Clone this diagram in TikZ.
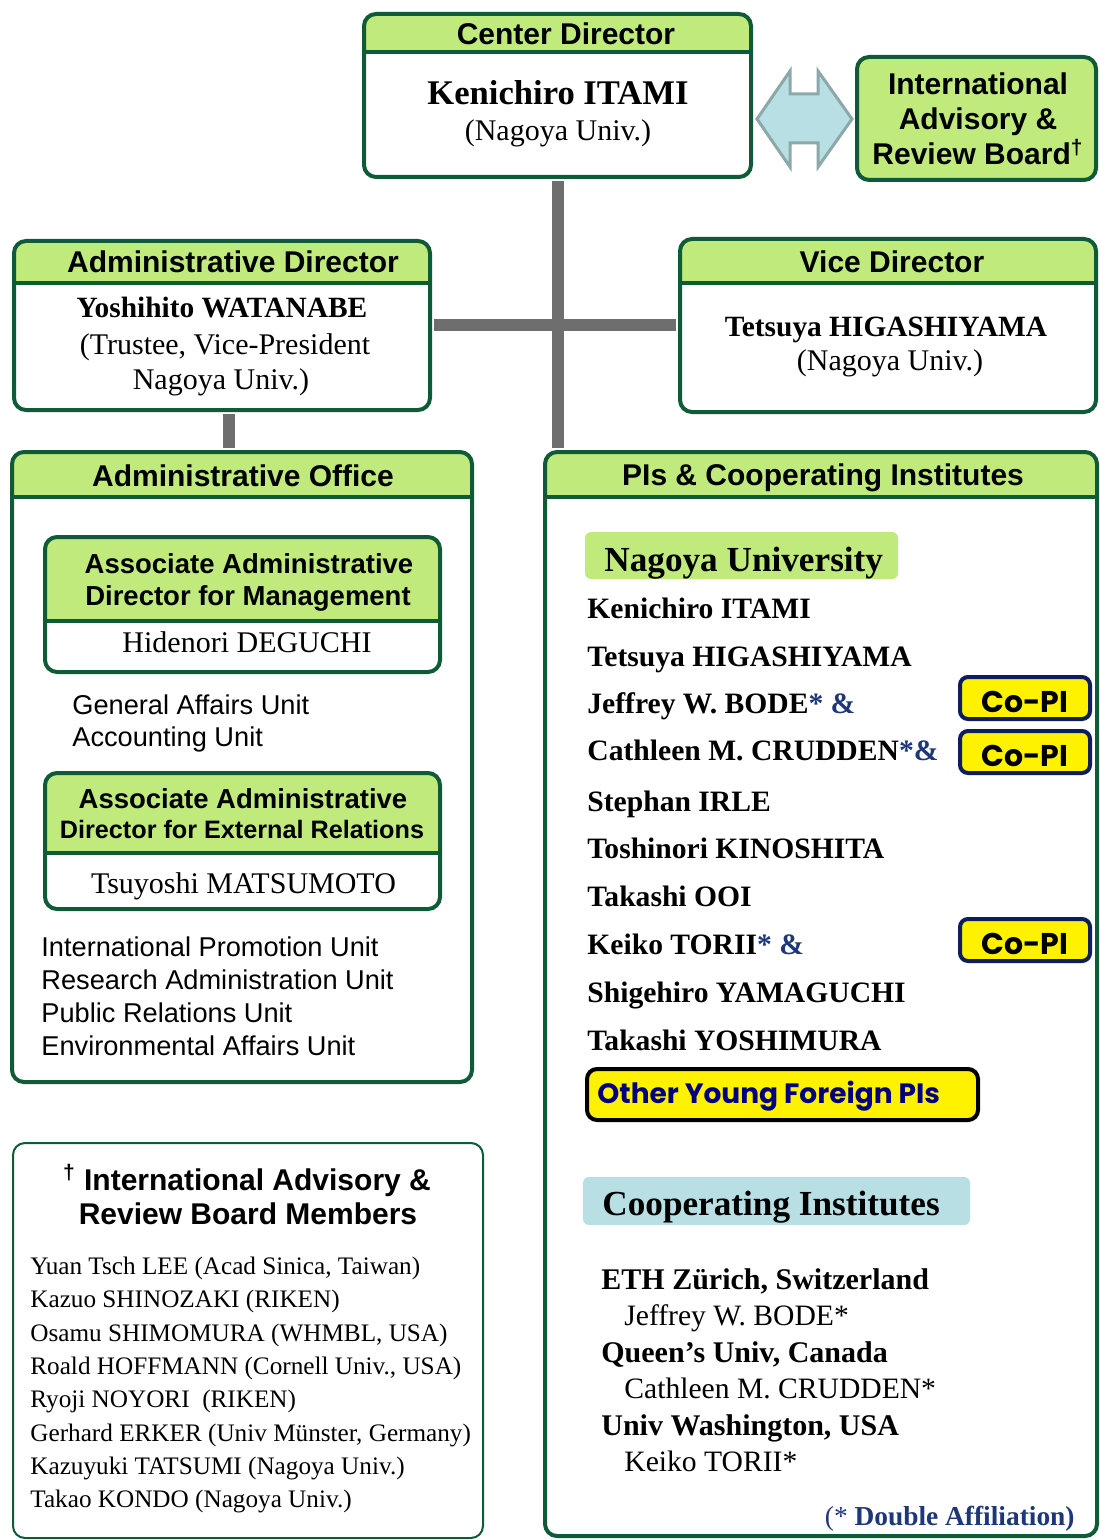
\documentclass[tikz,border=0pt]{standalone}
\usepackage{fontspec}
\setmainfont{Liberation Serif}
\setsansfont{Liberation Sans}
\newfontfamily\roundfont{Poppins}
\usetikzlibrary{positioning}

\definecolor{hdrgreen}{RGB}{192,234,123}
\definecolor{boxgreen}{RGB}{15,91,56}
\definecolor{linkgrey}{RGB}{110,110,110}
\definecolor{arrowfill}{RGB}{184,223,227}
\definecolor{arrowline}{RGB}{140,168,168}
\definecolor{copiline}{RGB}{12,30,94}
\definecolor{navytext}{RGB}{0,0,128}
\definecolor{ampblue}{RGB}{30,55,120}

\begin{document}
\begin{tikzpicture}[x=0.5pt,y=-0.5pt,
    box/.style={draw=boxgreen,line width=2pt,rounded corners=6pt,fill=white,inner sep=0pt},
    hbox/.style={box,path picture={
        \fill[hdrgreen,sharp corners] (path picture bounding box.north west) rectangle ([yshift=-#1]path picture bounding box.north east);
        \draw[boxgreen,line width=2pt] ([yshift=-#1]path picture bounding box.north west) -- ([yshift=-#1]path picture bounding box.north east);}},
    link/.style={linkgrey,line width=6pt,shorten <=1pt,shorten >=1pt},
    head/.style={font=\sffamily\bfseries\fontsize{15}{18}\selectfont,anchor=base},
    subhead/.style={font=\sffamily\bfseries\fontsize{#1}{16}\selectfont,anchor=base},
    bigname/.style={font=\bfseries\fontsize{17.3}{20}\selectfont,anchor=base},
    person/.style={font=\bfseries\fontsize{14.7}{18}\selectfont,anchor=base},
    affil/.style={font=\fontsize{15}{18}\selectfont,anchor=base},
    unit/.style={font=\sffamily\fontsize{13.6}{16}\selectfont,anchor=base west,inner sep=0pt},
    pname/.style={font=\bfseries\fontsize{14.8}{18}\selectfont,anchor=base west,inner sep=0pt},
    pnamereg/.style={font=\fontsize{14.8}{18}\selectfont,anchor=base west,inner sep=0pt},
    tagtext/.style={font=\bfseries\fontsize{17.6}{20}\selectfont,anchor=base west,inner sep=0pt},
    inst/.style={font=\bfseries\fontsize{15}{18}\selectfont,anchor=base west,inner sep=0pt},
    member/.style={font=\fontsize{12.6}{15}\selectfont,anchor=base west,inner sep=0pt},
    copi/.style={draw=copiline,fill=yellow,line width=2pt,rounded corners=4pt,
        minimum width=65pt,minimum height=21pt,inner sep=0pt,text height=14.5pt,text depth=0pt,
        font=\roundfont\bfseries\fontsize{15}{17}\selectfont}]
  \clip (0,0) rectangle (1099,1540);

  % boxes
  \node[hbox=19pt,minimum width=193.5pt,minimum height=81.5pt] (cdir) at (557.5,95.5) {};
  \node[box,fill=hdrgreen,minimum width=119.5pt,minimum height=61.5pt] (iarb) at (976.5,118.5) {};
  \node[hbox=21pt,minimum width=208pt,minimum height=84.5pt] (adir) at (222,325.5) {};
  \node[hbox=22pt,minimum width=208pt,minimum height=86.5pt] (vdir) at (888,325.5) {};
  \node[hbox=22.5pt,minimum width=230pt,minimum height=315pt] (aoff) at (242,767) {};
  \node[hbox=22.5pt,minimum width=276pt,minimum height=542pt] (pis) at (821,994) {};
  \node[box,line width=1pt,minimum width=235pt,minimum height=197.5pt] (board) at (248,1340.5) {};
  \node[hbox=42pt,minimum width=197.5pt,minimum height=67.5pt] (amgmt) at (242.5,604.5) {};
  \node[hbox=40pt,minimum width=197.5pt,minimum height=68pt] (aext) at (242.5,841) {};

  % grey links
  \draw[link] (cdir.south) -- (pis.north -| cdir.south);
  \draw[link] (adir.east) -- (vdir.west);
  \draw[link] ([xshift=3.5pt]adir.south) -- ([xshift=3.5pt]adir.south |- aoff.north);

  % two-way arrow to the board
  \draw[fill=arrowfill,draw=arrowline,line width=1.5pt,line join=miter]
    (757,119) -- (790,71) -- (790,94) -- (818,94) -- (818,71) -- (852,119)
    -- (818,167) -- (818,143) -- (790,143) -- (790,167) -- cycle;

  % directors
  \node[head] (cdirt) at (566,45) {Center Director};
  \node[bigname] (cdirn) at (558,105) {Kenichiro ITAMI};
  \node[affil] (cdira) at (558,141) {(Nagoya Univ.)};

  \node[head] (iarb1) at (978,95) {International};
  \node[head] (iarb2) at (978,130) {Advisory \&};
  \node[head] (iarb3) at (978,165) {Review Board\textsuperscript{†}};

  \node[head] (adirt) at (233,273) {Administrative Director};
  \node[person] (adirn) at (222,318) {Yoshihito WATANABE};
  \node[affil] (adira) at (225,355) {(Trustee, Vice-President};
  \node[affil] (adirb) at (221,389) {Nagoya Univ.)};

  \node[head] (vdirt) at (892,273) {Vice Director};
  \node[person] (vdirn) at (886,336) {Tetsuya HIGASHIYAMA};
  \node[affil] (vdira) at (890,371) {(Nagoya Univ.)};

  % administrative office
  \node[head] (aofft) at (243,486) {Administrative Office};
  \node[subhead=13.75] (amgmt1) at (249,573) {Associate Administrative};
  \node[subhead=13.75] (amgmt2) at (248,605) {Director for Management};
  \node[affil] (amgmtn) at (247,652) {Hidenori DEGUCHI};
  \node[unit] (u1) at (72,714) {General Affairs Unit};
  \node[unit] (u2) at (72,746) {Accounting Unit};
  \node[subhead=13.75] (aext1) at (243,808) {Associate Administrative};
  \node[subhead=12.6] (aext2) at (242,838) {Director for External Relations};
  \node[affil] (aextn) at (243.5,893) {Tsuyoshi MATSUMOTO};
  \node[unit] (u3) at (41,956) {International Promotion Unit};
  \node[unit] (u4) at (41,989) {Research Administration Unit};
  \node[unit] (u5) at (41,1022) {Public Relations Unit};
  \node[unit] (u6) at (41,1055) {Environmental Affairs Unit};

  % board members
  \node[head] (boardt1) at (247,1190) {\textsuperscript{†} International Advisory \&};
  \node[head] (boardt2) at (248,1224) {Review Board Members};
  \node[member] (m1) at (30,1274) {Yuan Tsch LEE (Acad Sinica, Taiwan)};
  \node[member] (m2) at (30,1307) {Kazuo SHINOZAKI (RIKEN)};
  \node[member] (m3) at (30,1341) {Osamu SHIMOMURA (WHMBL, USA)};
  \node[member] (m4) at (30,1374) {Roald HOFFMANN (Cornell Univ., USA)};
  \node[member] (m5) at (30,1407) {Ryoji NOYORI \ (RIKEN)};
  \node[member] (m6) at (30,1441) {Gerhard ERKER (Univ Münster, Germany)};
  \node[member] (m7) at (30,1474) {Kazuyuki TATSUMI (Nagoya Univ.)};
  \node[member] (m8) at (30,1507) {Takao KONDO (Nagoya Univ.)};

  % PIs
  \node[head] (pist) at (823,485) {PIs \& Cooperating Institutes};
  \node[fill=hdrgreen,rounded corners=3pt,minimum width=156.5pt,minimum height=23.5pt] (nulab) at (741.5,555.5) {};
  \node[tagtext] (nulabt) at (604,571) {Nagoya University};
  \node[pname] (p1) at (587,618) {Kenichiro ITAMI};
  \node[pname] (p2) at (587,666) {Tetsuya HIGASHIYAMA};
  \node[pname] (p3) at (587,713) {Jeffrey W. BODE\textcolor{ampblue}{* \&}};
  \node[pname] (p4) at (587,760) {Cathleen M. CRUDDEN\textcolor{ampblue}{*\&}};
  \node[pname] (p5) at (587,811) {Stephan IRLE};
  \node[pname] (p6) at (587,858) {Toshinori KINOSHITA};
  \node[pname] (p7) at (587,906) {Takashi OOI};
  \node[pname] (p8) at (587,954) {Keiko TORII\textcolor{ampblue}{* \&}};
  \node[pname] (p9) at (587,1002) {Shigehiro YAMAGUCHI};
  \node[pname] (p10) at (587,1050) {Takashi YOSHIMURA};
  \node[copi] (c1) at (1025,698) {Co-PI};
  \node[copi] (c2) at (1025,752) {Co-PI};
  \node[copi] (c3) at (1025,940) {Co-PI};
  \node[draw=black,fill=yellow,line width=2pt,rounded corners=5pt,minimum width=195.5pt,minimum height=25.5pt] (other) at (782.5,1094.5) {};
  \node[font=\roundfont\bfseries\fontsize{14}{16}\selectfont,text=navytext,anchor=base west,inner sep=0pt] (othert) at (597,1103) {Other Young Foreign PIs};

  % cooperating institutes
  \node[fill=arrowfill,rounded corners=3pt,minimum width=193.5pt,minimum height=24pt] (coop) at (776.5,1201) {};
  \node[tagtext] (coopt) at (602,1215) {Cooperating Institutes};
  \node[inst] (i1) at (601,1289) {ETH Zürich, Switzerland};
  \node[pnamereg] (i1n) at (624,1325) {Jeffrey W. BODE*};
  \node[inst] (i2) at (601,1362) {Queen’s Univ, Canada};
  \node[pnamereg] (i2n) at (624,1398) {Cathleen M. CRUDDEN*};
  \node[inst] (i3) at (601,1435) {Univ Washington, USA};
  \node[pnamereg] (i3n) at (624,1471) {Keiko TORII*};
  \node[font=\fontsize{13.7}{16}\selectfont,text=ampblue,anchor=base east,inner sep=0pt] (note) at (1075,1525) {(* \textbf{Double Affiliation)}};
\end{tikzpicture}
\end{document}
